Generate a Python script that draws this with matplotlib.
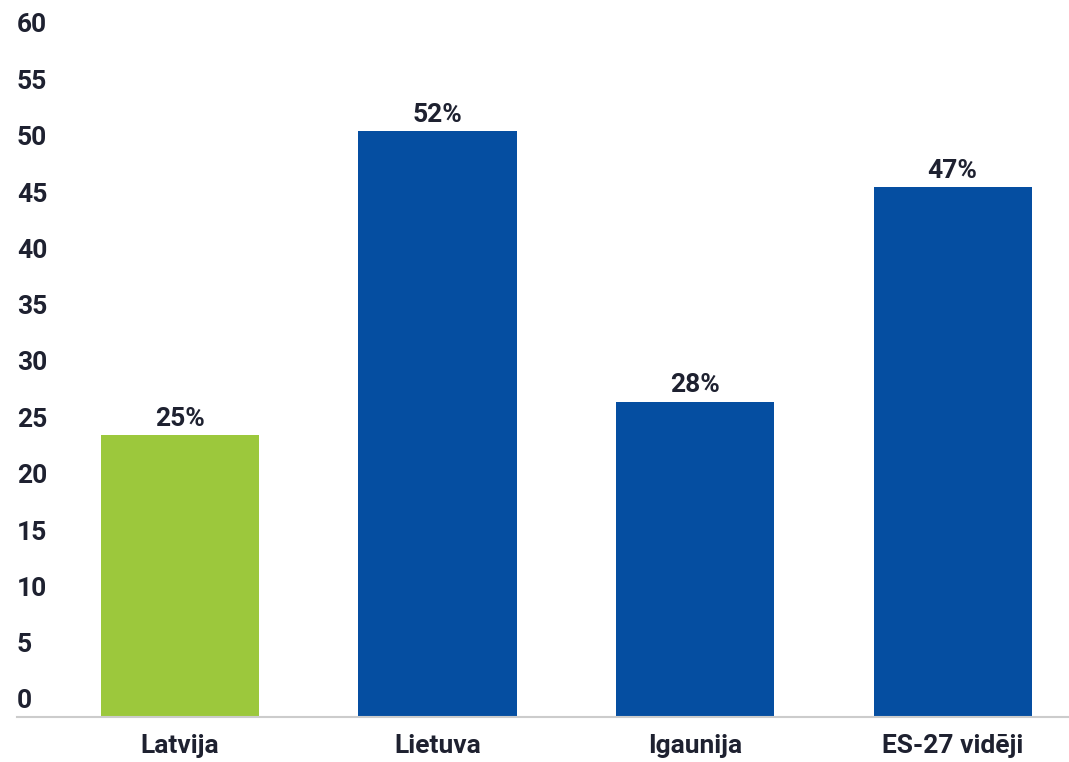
import matplotlib.pyplot as plt
import matplotlib.transforms as mtransforms

countries = ["Latvija", "Lietuva", "Igaunija", "ES-27 vidēji"]
values = [25, 52, 28, 47]
colors = ["#9cc83c", "#054ea1", "#054ea1", "#054ea1"]
yticks = list(range(0, 61, 5))

plt.rcParams['font.family'] = ['Roboto', 'DejaVu Sans']
text_color = "#1e2130"
fs = 19

fig = plt.figure(figsize=(10.69, 7.62), dpi=100)
ax = fig.add_axes([17 / 1069, 1 - 717 / 762, 1 - 17 / 1069, (717 - 41) / 762])

x = range(len(countries))
bars = ax.bar(x, values, width=0.614, color=colors)

for b, v in zip(bars, values):
    ax.annotate(f"{v}%", (b.get_x() + b.get_width() / 2, v),
                xytext=(0, 3), textcoords="offset points",
                ha="center", va="bottom", fontsize=fs, fontweight="bold",
                color=text_color)

ax.set_xlim(-0.633, 3.452)
ax.set_ylim(0, 60)
ax.set_yticks(yticks)
ax.set_xticks(list(x))
ax.set_xticklabels(countries, fontsize=fs, fontweight="bold", color=text_color)
ax.tick_params(axis="x", length=0, pad=12)
ax.tick_params(axis="y", length=0, pad=0, labelsize=fs, labelcolor=text_color)

shift = mtransforms.ScaledTranslation(0, 18 / 100, fig.dpi_scale_trans)
for lab in ax.get_yticklabels():
    lab.set_horizontalalignment("left")
    lab.set_fontweight("bold")
    lab.set_transform(lab.get_transform() + shift)

for s in ["top", "right", "left"]:
    ax.spines[s].set_visible(False)
ax.spines["bottom"].set_color("#cccccc")
ax.spines["bottom"].set_linewidth(1.5)
ax.set_facecolor("none")

fig.savefig("out.png", dpi=100)
